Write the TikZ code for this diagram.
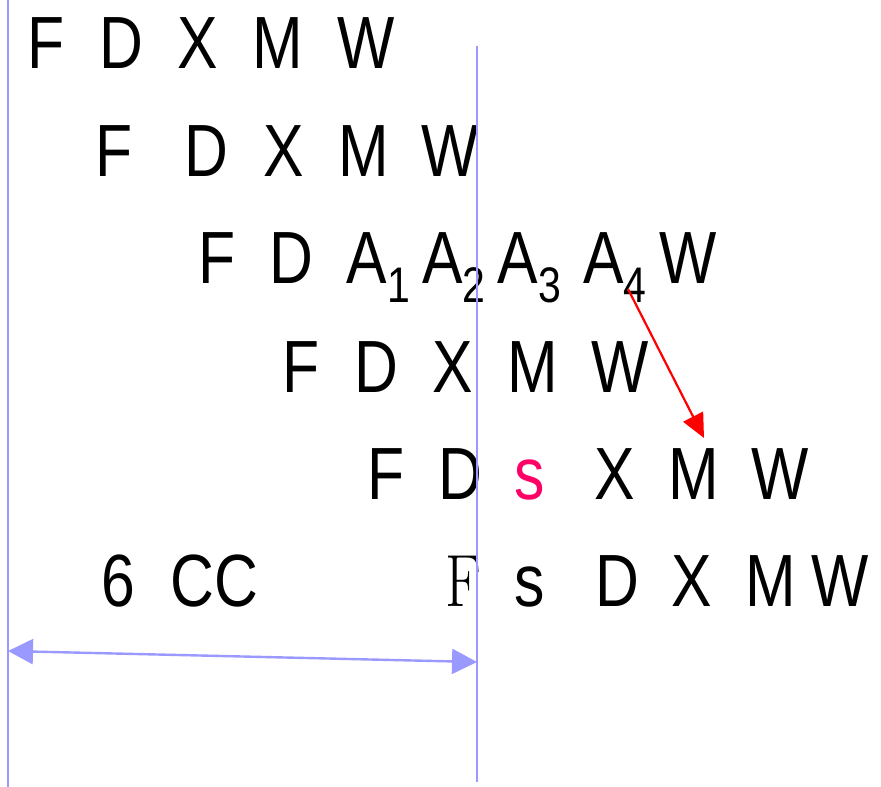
\documentclass[tikz,border=0pt]{standalone}
\usepackage{fontspec}
\usetikzlibrary{arrows.meta}
\newfontfamily\narrowsans[FakeStretch=0.82]{Liberation Sans}
\definecolor{guide}{HTML}{9999FF}
\definecolor{pinks}{HTML}{FF0066}
\begin{document}
\begin{tikzpicture}[x=1pt,y=-1pt,
  glyph/.style={inner sep=0pt,anchor=base,font=\narrowsans\fontsize{74}{80}\selectfont},
  subg/.style={inner sep=0pt,anchor=base,font=\narrowsans\fontsize{50}{54}\selectfont},
  guideline/.style={draw=guide,line width=2pt},
  guidearrow/.style={guide,line width=2.4pt,{Triangle[length=25pt,width=25pt]}-{Triangle[length=25pt,width=25pt]}},
  redarrow/.style={red,line width=2.2pt,-{Triangle[length=24pt,width=22pt]}}]
\useasboundingbox (0,0) rectangle (881,787);
% row 1
\node[glyph] (r1F) at (46.5,68) {F};
\node[glyph] (r1D) at (121.5,68) {D};
\node[glyph] (r1X) at (197.5,68) {X};
\node[glyph] (r1M) at (277.5,68) {M};
\node[glyph] (r1W) at (366,68) {W};
% row 2
\node[glyph] (r2F) at (114,176) {F};
\node[glyph] (r2D) at (206.5,176) {D};
\node[glyph] (r2X) at (284,176) {X};
\node[glyph] (r2M) at (363.5,176) {M};
\node[glyph] (r2W) at (450.5,176) {W};
% row 3
\node[glyph] (r3F) at (217,283) {F};
\node[glyph] (r3D) at (291.5,283) {D};
\node[glyph] (r3A1) at (367,283) {A};
\node[subg] (s1) at (398.5,302) {1};
\node[glyph] (r3A2) at (442.5,283) {A};
\node[subg] (s2) at (474,302) {2};
\node[glyph] (r3A3) at (518,283) {A};
\node[subg] (s3) at (550,302) {3};
\node[glyph] (r3A4) at (604,283) {A};
\node[subg] (s4) at (635,302) {4};
\node[glyph] (r3W) at (688,283) {W};
% row 4
\node[glyph] (r4F) at (301,392) {F};
\node[glyph] (r4D) at (376,392) {D};
\node[glyph] (r4X) at (452.5,392) {X};
\node[glyph] (r4M) at (532.5,392) {M};
\node[glyph] (r4W) at (620.5,392) {W};
% row 5
\node[glyph] (r5F) at (386.5,499) {F};
\node[glyph] (r5D) at (460,499) {D};
\node[glyph,text=pinks] (r5s) at (530,499) {s};
\node[glyph] (r5X) at (615,499) {X};
\node[glyph] (r5M) at (694,499) {M};
\node[glyph] (r5W) at (780.5,499) {W};
% row 6
\node[glyph] (r66) at (118.5,606) {6};
\node[glyph] (r6C1) at (192.5,606) {C};
\node[glyph] (r6C2) at (236,606) {C};
\node[inner sep=0pt,anchor=base,font=\rmfamily\fontsize{74}{80}\selectfont] (r6F) at (463,606) {\scalebox{0.8}[1]{F}};
\node[glyph] (r6s) at (530,606) {s};
\node[glyph] (r6D) at (617,606) {D};
\node[glyph] (r6X) at (692,606) {X};
\node[glyph] (r6M) at (771,606) {M};
\node[glyph] (r6W) at (840.5,606) {W};
% guide lines
\coordinate (lt) at (8,0);
\coordinate (lb) at (8,787);
\coordinate (rt) at (477,46);
\coordinate (rb) at (477,782);
\draw[guideline] (lt) -- (lb);
\draw[guideline] (rt) -- (rb);
\coordinate (al) at (8,651);
\coordinate (ar) at (477,662);
\draw[guidearrow] (al) -- (ar);
% red arrow
\coordinate (rs) at (628,289);
\coordinate (re) at (704,438);
\draw[redarrow] (rs) -- (re);
\end{tikzpicture}
\end{document}
